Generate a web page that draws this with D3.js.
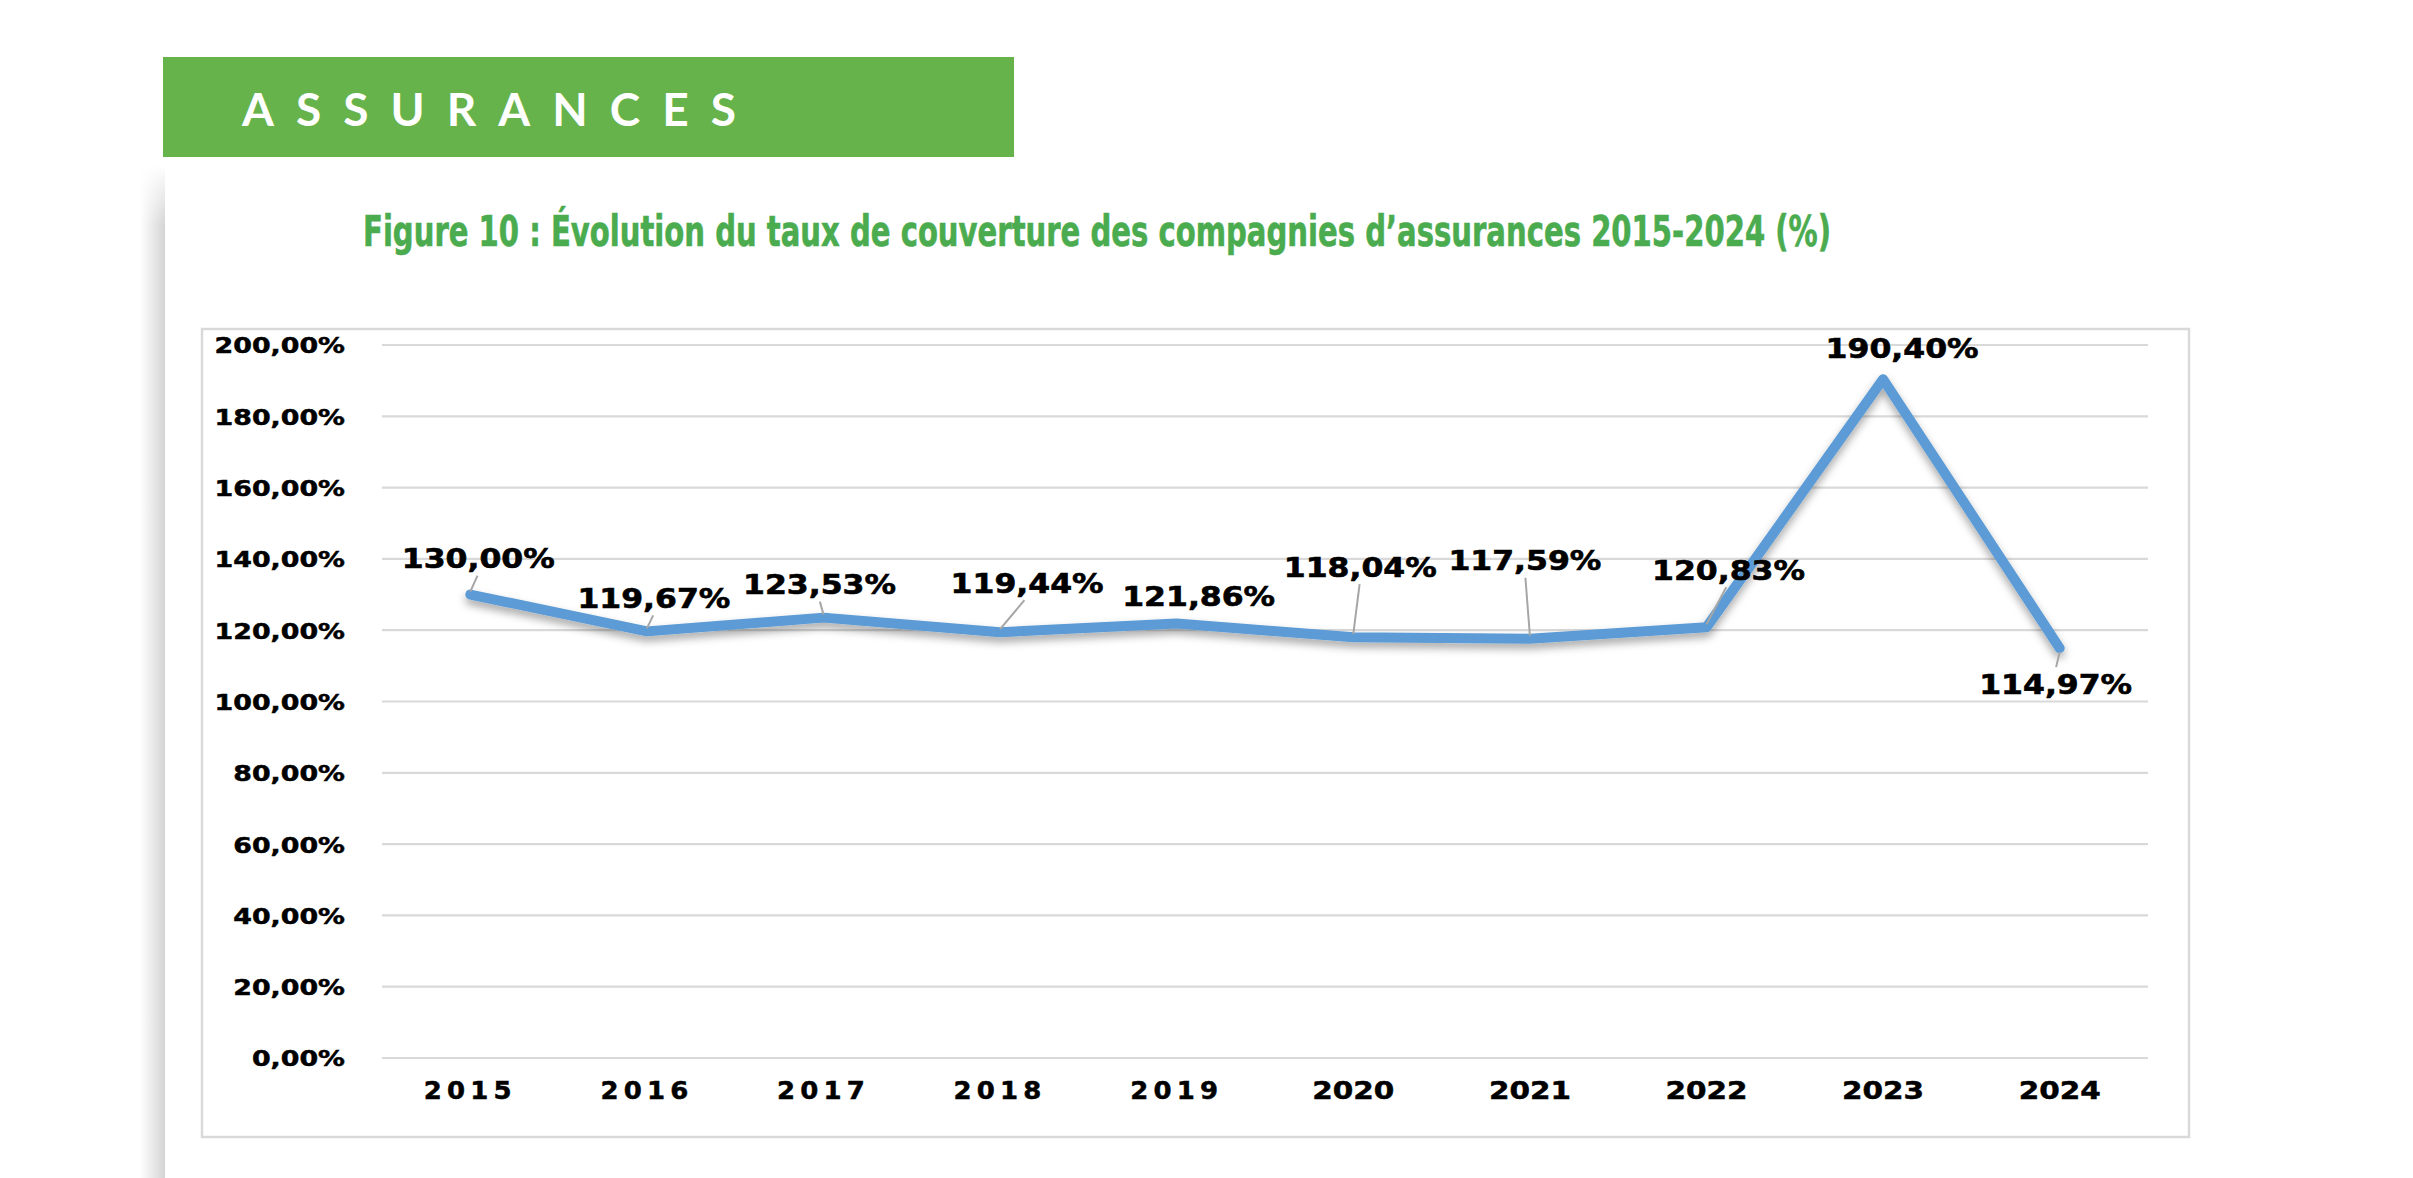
<!DOCTYPE html>
<html>
<head>
<meta charset="utf-8">
<script src="https://cdn.jsdelivr.net/npm/d3@7"></script>
<style>
  html, body { margin: 0; padding: 0; background: #ffffff; }
  svg { display: block; }
</style>
</head>
<body>
<svg id="chart" width="2413" height="1178"></svg>
<script>
// ---------- data ----------
const years = ["2015", "2016", "2017", "2018", "2019", "2020", "2021", "2022", "2023", "2024"];
const coverage = [130.00, 119.67, 123.53, 119.44, 121.86, 118.04, 117.59, 120.83, 190.40, 114.97];
const yTicks = [0, 20, 40, 60, 80, 100, 120, 140, 160, 180, 200];
const bannerText = "ASSURANCES";
const titleText = "Figure 10 : Évolution du taux de couverture des compagnies d’assurances 2015-2024 (%)";

// ---------- layout (label offsets from each point, in px) ----------
const labelDx = [8, 7, -4, 27, 22, 7, -5, 22, 19, -4];
const labelDy = [-36, -33, -33, -49, -27, -70, -78, -57, -31, 37];

(function () {
const svg = d3.select("#chart");
const fmt = v => v.toFixed(2).replace(".", ",") + "%";

function stretch(sel, factor) {
  sel.each(function () {
    const w = this.getComputedTextLength();
    d3.select(this).attr("textLength", w * factor).attr("lengthAdjust", "spacingAndGlyphs");
  });
}

const defs = svg.append("defs");
const sh = defs.append("linearGradient").attr("id", "pageShadow").attr("x1", "0").attr("x2", "1").attr("y1", "0").attr("y2", "0");
sh.append("stop").attr("offset", "0%").attr("stop-color", "#ffffff");
sh.append("stop").attr("offset", "100%").attr("stop-color", "#d4d4d4");
const shv = defs.append("linearGradient").attr("id", "pageShadowV").attr("x1", "0").attr("x2", "0").attr("y1", "0").attr("y2", "1");
shv.append("stop").attr("offset", "0%").attr("stop-color", "#fff").attr("stop-opacity", 1);
shv.append("stop").attr("offset", "6%").attr("stop-color", "#fff").attr("stop-opacity", 0);
const filt = defs.append("filter").attr("id", "lineShadow").attr("x", "-10%").attr("y", "-20%").attr("width", "120%").attr("height", "140%");
filt.append("feDropShadow").attr("dx", 0).attr("dy", 5).attr("stdDeviation", 4)
  .attr("flood-color", "#000").attr("flood-opacity", 0.35);

// page shadow on the left
svg.append("rect").attr("x", 140).attr("y", 165).attr("width", 25).attr("height", 1013).attr("fill", "url(#pageShadow)");
svg.append("rect").attr("x", 140).attr("y", 165).attr("width", 25).attr("height", 1013).attr("fill", "url(#pageShadowV)");

// banner
svg.append("rect").attr("x", 163).attr("y", 57).attr("width", 851).attr("height", 100).attr("fill", "#67b34b");
svg.append("text").attr("x", 242).attr("y", 126)
  .attr("font-family", "Lato, 'Open Sans', sans-serif").attr("font-weight", 700)
  .attr("font-size", 46).attr("fill", "#ffffff")
  .attr("textLength", 494).attr("lengthAdjust", "spacing")
  .text(bannerText);

// title
svg.append("text").attr("x", 363).attr("y", 246)
  .attr("font-family", "'Liberation Sans Narrow', 'DejaVu Sans Condensed', sans-serif")
  .attr("font-weight", 700).attr("font-size", 42).attr("fill", "#4aab4f")
  .attr("stroke", "#4aab4f").attr("stroke-width", 0.6)
  .attr("textLength", 1468).attr("lengthAdjust", "spacingAndGlyphs")
  .text(titleText);

// chart frame
svg.append("rect").attr("x", 202).attr("y", 329).attr("width", 1987).attr("height", 808)
  .attr("fill", "#ffffff").attr("stroke", "#d9d9d9").attr("stroke-width", 2.5);

const plotLeft = 382, plotRight = 2148, plotTop = 345, plotBottom = 1058;
const x = d3.scaleBand().domain(years).range([plotLeft, plotRight]).padding(0);
const y = d3.scaleLinear().domain([0, 200]).range([plotBottom, plotTop]);
const cx = d => x(d) + x.bandwidth() / 2;

// gridlines
svg.append("g").selectAll("line").data(yTicks).join("line")
  .attr("x1", plotLeft).attr("x2", plotRight)
  .attr("y1", d => y(d)).attr("y2", d => y(d))
  .attr("stroke", "#d9d9d9").attr("stroke-width", 2.2);

// y axis
const yAxis = svg.append("g").attr("transform", `translate(${plotLeft},0)`)
  .call(d3.axisLeft(y).tickValues(yTicks).tickSize(0).tickPadding(37).tickFormat(fmt));
yAxis.select(".domain").remove();
yAxis.selectAll("text")
  .attr("font-family", "'DejaVu Sans', Verdana, sans-serif").attr("font-weight", 700)
  .attr("font-size", 22).attr("fill", "#000").attr("stroke", "#000").attr("stroke-width", 0.5)
  .attr("dy", "0.36em");
stretch(yAxis.selectAll("text"), 1.22);

// x axis
const xAxis = svg.append("g").attr("transform", `translate(0,${plotBottom})`)
  .call(d3.axisBottom(x).tickSize(0).tickPadding(32));
xAxis.select(".domain").remove();
xAxis.selectAll("text")
  .attr("font-family", "'DejaVu Sans', Verdana, sans-serif").attr("font-weight", 700)
  .attr("font-size", 25).attr("fill", "#000").attr("stroke", "#000").attr("stroke-width", 0.5)
  .attr("dy", "0.36em")
  .attr("letter-spacing", d => (+d < 2020 ? 5 : 0));
xAxis.selectAll("text").each(function (d) {
  d3.select(this).attr("textLength", +d < 2020 ? 93 : 82).attr("lengthAdjust", "spacingAndGlyphs");
});

// line
const line = d3.line().x((d, i) => cx(years[i])).y(d => y(d));
svg.append("path").datum(coverage)
  .attr("d", line).attr("fill", "none")
  .attr("stroke", "#5b9bd5").attr("stroke-width", 10)
  .attr("stroke-linejoin", "round").attr("stroke-linecap", "round")
  .attr("filter", "url(#lineShadow)");

// leader lines
const pts = coverage.map((v, i) => ({
  v, px: cx(years[i]), py: y(v), lx: cx(years[i]) + labelDx[i], ly: y(v) + labelDy[i]
}));
svg.append("g").selectAll("line").data(pts.filter(p => Math.abs(p.ly - p.py) > 30 && p.v < 150)).join("line")
  .attr("x1", p => p.px).attr("y1", p => p.py + (p.ly > p.py ? 4 : -3))
  .attr("x2", p => p.px + (p.lx - p.px) * 0.9)
  .attr("y2", p => p.ly + (p.ly > p.py ? -18 : 17))
  .attr("stroke", "#a6a6a6").attr("stroke-width", 2);

// data labels
const labels = svg.append("g").selectAll("text").data(pts).join("text")
  .attr("x", p => p.lx).attr("y", p => p.ly).attr("dy", "0.36em")
  .attr("text-anchor", "middle")
  .attr("font-family", "'DejaVu Sans', Verdana, sans-serif").attr("font-weight", 700)
  .attr("font-size", 26).attr("fill", "#000").attr("stroke", "#000").attr("stroke-width", 0.6)
  .text(p => fmt(p.v));
stretch(labels, 1.21);
})();
</script>
</body>
</html>
